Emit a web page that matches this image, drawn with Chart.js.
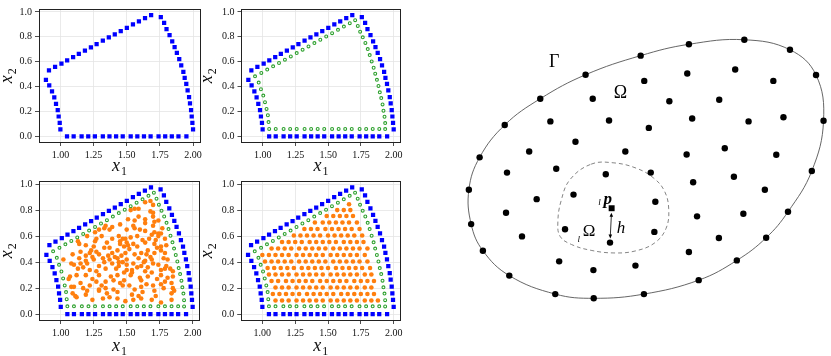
<!DOCTYPE html>
<html>
<head>
<meta charset="utf-8">
<script src="https://cdn.jsdelivr.net/npm/chart.js@4.4.0/dist/chart.umd.min.js"></script>
<style>
  body { margin: 0; background: #fff; width: 831px; height: 356px; position: relative; overflow: hidden; }
  canvas { position: absolute; }
</style>
</head>
<body>
<canvas id="panel_tl"></canvas>
<canvas id="panel_tr"></canvas>
<canvas id="panel_bl"></canvas>
<canvas id="panel_br"></canvas>
<canvas id="panel_domain"></canvas>
<script>
// tick labels of the four node plots
const xTicks = [1.00, 1.25, 1.50, 1.75, 2.00];
const yTicks = [0.0, 0.2, 0.4, 0.6, 0.8, 1.0];

// boundary nodes (blue squares)
const boundaryNodes = [
  [1.05,0],[1.10,0],[1.16,0],[1.21,0],[1.26,0],[1.32,0],[1.37,0],[1.42,0],[1.47,0],
  [1.53,0],[1.58,0],[1.63,0],[1.68,0],[1.74,0],[1.79,0],[1.84,0],[1.89,0],[1.95,0],
  [2.000,0.056],[1.995,0.109],[1.990,0.160],[1.985,0.211],[1.977,0.265],[1.970,0.316],
  [1.959,0.369],[1.949,0.422],[1.937,0.471],[1.927,0.519],[1.911,0.570],[1.896,0.621],
  [1.878,0.672],[1.861,0.718],[1.843,0.763],[1.823,0.814],[1.800,0.863],[1.782,0.913],[1.757,0.959],
  [1.684,0.975],[1.638,0.950],[1.592,0.925],[1.547,0.900],[1.501,0.872],[1.455,0.846],
  [1.410,0.820],[1.365,0.795],[1.320,0.770],[1.273,0.742],[1.230,0.716],[1.185,0.690],
  [1.139,0.664],[1.096,0.638],[1.051,0.612],[1.008,0.585],[0.960,0.558],[0.914,0.530],
  [0.891,0.455],[0.916,0.410],[0.937,0.361],[0.954,0.313],[0.967,0.262],[0.980,0.211],
  [0.987,0.160],[0.995,0.109],[1.000,0.056]
];

// first layer inside the boundary (green rings)
const layerNodes = [
  [1.05,0.06],[1.10,0.06],[1.16,0.06],[1.21,0.06],[1.26,0.06],[1.32,0.06],[1.37,0.06],[1.42,0.06],
  [1.47,0.06],[1.53,0.06],[1.58,0.06],[1.63,0.06],[1.68,0.06],[1.74,0.06],[1.79,0.06],[1.84,0.06],[1.89,0.06],
  [1.935,0.059],[1.935,0.107],[1.930,0.158],[1.922,0.206],[1.915,0.257],[1.905,0.308],[1.894,0.354],
  [1.884,0.405],[1.872,0.455],[1.859,0.504],[1.847,0.552],[1.832,0.603],[1.817,0.654],[1.802,0.702],
  [1.784,0.751],[1.764,0.796],[1.744,0.842],[1.726,0.888],[1.706,0.934],
  [1.665,0.910],[1.620,0.883],[1.575,0.857],[1.530,0.830],[1.485,0.803],[1.440,0.777],[1.395,0.750],
  [1.350,0.723],[1.305,0.697],[1.260,0.670],[1.215,0.643],[1.170,0.617],[1.125,0.590],[1.080,0.563],
  [1.035,0.537],[0.990,0.510],
  [0.942,0.483],[0.970,0.433],[0.987,0.379],[1.005,0.328],[1.018,0.275],[1.030,0.221],[1.040,0.170],[1.045,0.115]
];

// scattered interior nodes (bottom left)
const scatteredNodes = [
  [1.64,0.86],[1.68,0.87],[1.70,0.84],
  [1.53,0.80],[1.56,0.81],[1.59,0.81],[1.70,0.78],
  [1.51,0.73],[1.64,0.73],[1.70,0.75],[1.71,0.71],
  [1.34,0.68],[1.39,0.67],[1.55,0.68],[1.64,0.70],[1.70,0.68],
  [1.26,0.63],[1.29,0.65],[1.33,0.66],[1.37,0.65],[1.56,0.66],[1.64,0.64],[1.71,0.63],[1.74,0.62],
  [1.20,0.60],[1.27,0.58],[1.13,0.56],[1.39,0.58],[1.44,0.60],[1.49,0.58],[1.53,0.59],[1.58,0.60],
  [1.69,0.61],[1.74,0.60],[1.76,0.62],[1.79,0.58],
  [1.14,0.54],[1.19,0.53],[1.25,0.52],[1.33,0.51],[1.37,0.51],[1.45,0.54],[1.48,0.52],[1.51,0.53],
  [1.55,0.54],[1.64,0.55],[1.71,0.54],[1.76,0.52],[1.80,0.53],
  [1.09,0.46],[1.15,0.48],[1.22,0.47],[1.27,0.48],[1.29,0.46],[1.39,0.47],[1.43,0.49],[1.49,0.47],
  [1.56,0.46],[1.61,0.47],[1.65,0.46],[1.68,0.44],[1.71,0.47],[1.76,0.49],[1.79,0.47],
  [1.02,0.42],[1.14,0.43],[1.19,0.41],[1.24,0.44],[1.32,0.43],[1.37,0.42],[1.43,0.43],[1.50,0.42],
  [1.59,0.43],[1.64,0.41],[1.69,0.42],[1.78,0.43],[1.81,0.42],
  [1.08,0.39],[1.10,0.38],[1.15,0.39],[1.20,0.39],[1.29,0.37],[1.39,0.39],[1.44,0.40],[1.50,0.38],
  [1.55,0.39],[1.61,0.37],[1.70,0.39],[1.74,0.38],[1.80,0.37],
  [1.13,0.35],[1.22,0.34],[1.27,0.33],[1.34,0.35],[1.42,0.35],[1.50,0.34],[1.54,0.34],[1.64,0.33],
  [1.69,0.32],[1.76,0.34],[1.79,0.35],[1.83,0.35],[1.85,0.33],
  [1.07,0.29],[1.19,0.30],[1.29,0.30],[1.38,0.29],[1.43,0.30],[1.54,0.32],[1.60,0.28],[1.66,0.29],
  [1.76,0.30],[1.81,0.28],[1.85,0.29],
  [1.06,0.27],[1.27,0.25],[1.34,0.25],[1.40,0.26],[1.48,0.26],[1.61,0.26],[1.73,0.27],[1.79,0.25],[1.84,0.24],
  [1.08,0.21],[1.10,0.21],[1.17,0.20],[1.22,0.22],[1.29,0.19],[1.34,0.20],[1.40,0.19],[1.47,0.22],
  [1.61,0.21],[1.70,0.22],[1.76,0.23],[1.85,0.20],
  [1.09,0.16],[1.11,0.14],[1.19,0.15],[1.29,0.18],[1.35,0.16],[1.43,0.17],[1.54,0.15],[1.59,0.14],
  [1.71,0.18],[1.84,0.16],[1.86,0.18],
  [1.12,0.13],[1.24,0.11],[1.37,0.13],[1.43,0.12],[1.49,0.10],[1.61,0.12],[1.69,0.11],[1.76,0.09],[1.84,0.11],
  [1.45,0.56],[1.47,0.58],[1.50,0.55],[1.52,0.50],[1.46,0.45],[1.44,0.37],[1.47,0.40],[1.41,0.44],
  [1.36,0.45],[1.33,0.40],[1.25,0.42],[1.23,0.49],[1.19,0.45],[1.17,0.36],[1.26,0.56],[1.31,0.60],
  [1.35,0.55],[1.58,0.52],[1.62,0.57],[1.67,0.58],[1.72,0.57],[1.73,0.51],[1.66,0.49],[1.63,0.40],
  [1.66,0.36],[1.58,0.36],[1.53,0.30],[1.48,0.32],[1.45,0.24],[1.52,0.22],[1.56,0.19],[1.65,0.23],
  [1.72,0.14],[1.78,0.20],[1.31,0.22],[1.24,0.27],[1.15,0.24],[1.12,0.30],[1.20,0.18],[1.32,0.12],
  [1.55,0.11],[1.62,0.17],[1.59,0.75],[1.56,0.72],[1.45,0.69],[1.50,0.65],[1.60,0.65],[1.68,0.79],
  [1.74,0.72],[1.77,0.66]
];

// structured interior nodes (bottom right), one row per y value
const latticeRows = [
  [0.105, [1.10,1.15,1.20,1.26,1.31,1.36,1.41,1.46,1.52,1.57,1.62,1.67,1.72,1.78,1.83,1.88]],
  [0.155, [1.08,1.13,1.18,1.23,1.28,1.34,1.39,1.44,1.49,1.54,1.60,1.65,1.70,1.75,1.80,1.85]],
  [0.205, [1.10,1.15,1.20,1.26,1.31,1.36,1.41,1.46,1.52,1.57,1.62,1.67,1.72,1.78,1.83]],
  [0.255, [1.07,1.12,1.18,1.23,1.28,1.33,1.38,1.44,1.49,1.54,1.59,1.64,1.70,1.75,1.80,1.85]],
  [0.305, [1.05,1.10,1.15,1.20,1.26,1.31,1.36,1.41,1.46,1.52,1.57,1.62,1.67,1.72,1.78,1.83]],
  [0.355, [1.04,1.09,1.14,1.19,1.24,1.30,1.35,1.40,1.45,1.50,1.56,1.61,1.66,1.71,1.76,1.82]],
  [0.405, [1.02,1.07,1.12,1.17,1.22,1.28,1.33,1.38,1.43,1.48,1.54,1.59,1.64,1.69,1.74,1.80]],
  [0.455, [1.00,1.05,1.10,1.15,1.20,1.26,1.31,1.36,1.41,1.46,1.52,1.57,1.62,1.67,1.72,1.78]],
  [0.505, [1.07,1.12,1.17,1.22,1.28,1.33,1.38,1.43,1.48,1.54,1.59,1.64,1.69,1.74,1.80]],
  [0.555, [1.15,1.20,1.25,1.30,1.36,1.41,1.46,1.51,1.56,1.62,1.67,1.72,1.77]],
  [0.605, [1.24,1.29,1.34,1.39,1.44,1.50,1.55,1.60,1.65,1.70,1.76]],
  [0.655, [1.32,1.37,1.42,1.48,1.53,1.58,1.63,1.68,1.74]],
  [0.705, [1.40,1.46,1.51,1.56,1.61,1.66,1.72]],
  [0.755, [1.49,1.54,1.59,1.64,1.69]],
  [0.800, [1.57,1.62,1.67]],
  [0.845, [1.66]]
];

// right figure: domain Omega with boundary Gamma (diagram units, y downward)
const gammaNodes = [
  [10.30,0.79],[8.90,0.48],[7.20,0.62],[5.72,0.97],[4.03,1.56],[2.64,2.30],[1.55,3.11],[0.78,4.11],
  [0.45,5.11],[0.52,6.17],[0.88,6.99],[1.69,7.76],[3.10,8.33],[4.28,8.46],[5.82,8.33],[7.50,7.90],
  [8.67,7.29],[9.57,6.59],[10.24,5.79],[10.97,4.53],[11.33,2.98],[11.10,1.57]
];
const omegaNodes = [
  [5.83,1.75],[7.15,1.52],[8.62,1.40],[9.79,1.75],
  [4.25,2.30],[6.60,2.38],[8.13,2.33],
  [2.95,3.00],[4.75,2.97],[5.97,3.20],[7.30,2.91],[9.03,3.00],[10.10,2.87],
  [3.72,3.63],[2.30,3.93],[5.25,3.93],[7.13,4.02],[8.30,3.83],[9.88,4.03],
  [1.62,4.58],[3.13,4.46],[4.65,4.63],[6.03,4.58],[7.33,4.88],[8.58,4.71],
  [2.53,5.40],[3.66,5.26],[6.17,5.48],[9.53,5.11],
  [1.59,5.82],[7.45,5.93],[8.87,5.85],
  [3.40,6.33],[6.14,6.41],[2.08,6.55],[8.12,6.60],[4.78,6.74],
  [7.20,7.03],[3.22,7.32],[4.27,7.59],[5.56,7.45]
];
const centerNode = [4.83,5.68];
const nearestNode = [4.78,6.74];
const localDomain = [
  [4.20,4.32],[4.90,4.28],[5.60,4.45],[6.12,4.75],[6.45,5.15],[6.58,5.70],[6.50,6.30],[6.15,6.75],
  [5.55,7.00],[4.90,7.06],[4.20,6.98],[3.60,6.80],[3.25,6.55],[3.18,6.10],[3.28,5.45],[3.55,4.80]
];
const diagramLabels = [
  {text: 'Γ', at: [3.07,1.19], font: '18px'},
  {text: 'Ω', at: [5.10,2.13], font: '18px'},
  {text: 'l', at: [4.46,5.50], font: 'italic 9px'},
  {text: 'p', at: [4.71,5.40], font: 'italic bold 17px'},
  {text: 'h', at: [5.12,6.30], font: 'italic 17px'},
  {text: 'l', at: [3.82,6.64], font: 'italic 9px'},
  {text: 'Ω', at: [4.14,6.41], font: '17px'}
];

const SERIF = '"Liberation Serif", "DejaVu Serif", serif';
const toXY = p => ({x: p[0], y: p[1]});

// x with a subscript, as matplotlib's $x_1$
function mathLabel(ctx, sub, cx, baseY) {
  const mainFont = 'italic 18px ' + SERIF;
  const subFont = '12px ' + SERIF;
  ctx.font = mainFont;
  const w1 = ctx.measureText('x').width;
  ctx.font = subFont;
  const w2 = ctx.measureText(sub).width;
  const start = cx - (w1 + w2 + 1) / 2;
  ctx.fillStyle = '#111';
  ctx.textAlign = 'left';
  ctx.textBaseline = 'alphabetic';
  ctx.font = mainFont;
  ctx.fillText('x', start, baseY);
  ctx.font = subFont;
  ctx.fillText(sub, start + w1 + 1, baseY + 4);
}

function panelDecor(xOff, yOff) {
  return {
    id: 'panelDecor',
    afterDraw(chart) {
      const ctx = chart.ctx;
      const a = chart.chartArea;
      ctx.save();
      ctx.strokeStyle = '#222';
      ctx.lineWidth = 1;
      ctx.strokeRect(Math.round(a.left) + 0.5, Math.round(a.top) + 0.5,
                     Math.round(a.right - a.left) - 1, Math.round(a.bottom - a.top) - 1);
      mathLabel(ctx, '1', (a.left + a.right) / 2, a.bottom + yOff);
      ctx.translate(a.left - xOff, (a.top + a.bottom) / 2);
      ctx.rotate(-Math.PI / 2);
      mathLabel(ctx, '2', 0, 0);
      ctx.restore();
    }
  };
}

function nodePlot(id, box, plot, interior, labelOff) {
  const canvas = document.getElementById(id);
  canvas.width = box.w;
  canvas.height = box.h;
  canvas.style.left = box.x + 'px';
  canvas.style.top = box.y + 'px';

  const datasets = [{
    data: boundaryNodes.map(toXY),
    pointStyle: 'rect', pointRadius: 3, borderWidth: 0,
    backgroundColor: '#0000ff', borderColor: '#0000ff', order: 3
  }];
  if (interior.layer) {
    datasets.push({
      data: layerNodes.map(toXY),
      pointStyle: 'circle', pointRadius: 1.45, borderWidth: 1.1,
      backgroundColor: 'rgba(255,255,255,0)', borderColor: '#2ca02c', order: 2
    });
  }
  if (interior.nodes) {
    datasets.push({
      data: interior.nodes.map(toXY),
      pointStyle: 'circle', pointRadius: 2.3, borderWidth: 0,
      backgroundColor: '#ff7f0e', borderColor: '#ff7f0e', order: 1
    });
  }

  const grid = {color: '#e4e4e4', lineWidth: 0.8, drawTicks: true, tickLength: 3.5,
                tickColor: '#222', tickWidth: 0.8};
  const tickFont = {family: SERIF, size: 10};
  return new Chart(canvas, {
    type: 'scatter',
    data: {datasets},
    options: {
      responsive: false,
      animation: false,
      events: [],
      layout: {padding: {left: 0, bottom: 0, top: plot.top - box.y, right: box.x + box.w - plot.right}},
      plugins: {legend: {display: false}, tooltip: {enabled: false}},
      scales: {
        x: {
          type: 'linear', min: 0.835, max: 2.055,
          grid, border: {display: false},
          afterBuildTicks: s => { s.ticks = xTicks.map(v => ({value: v})); },
          afterFit: s => { s.height = box.y + box.h - plot.bottom; },
          ticks: {font: tickFont, color: '#111', padding: 3, maxRotation: 0, autoSkip: false,
                  callback: v => Number(v).toFixed(2)}
        },
        y: {
          type: 'linear', min: -0.049, max: 1.024,
          grid, border: {display: false},
          afterBuildTicks: s => { s.ticks = yTicks.map(v => ({value: v})); },
          afterFit: s => { s.width = plot.left - box.x; },
          ticks: {font: tickFont, color: '#111', padding: 3, autoSkip: false,
                  callback: v => Number(v).toFixed(1)}
        }
      }
    },
    plugins: [panelDecor(labelOff.x, labelOff.y)]
  });
}

const latticeNodes = [];
latticeRows.forEach(row => row[1].forEach(x => latticeNodes.push([x, row[0]])));

nodePlot('panel_tl', {x: 0, y: 0, w: 205, h: 176},
         {left: 38.5, top: 1.5, right: 200.5, bottom: 142.5}, {}, {x: 27, y: 28.5});
nodePlot('panel_tr', {x: 196, y: 0, w: 210, h: 176},
         {left: 241, top: 1.5, right: 403.3, bottom: 142.5}, {layer: true}, {x: 29, y: 28.5});
nodePlot('panel_bl', {x: 0, y: 172, w: 205, h: 184},
         {left: 39, top: 178, right: 202, bottom: 320.5}, {layer: true, nodes: scatteredNodes}, {x: 27, y: 30.5});
nodePlot('panel_br', {x: 196, y: 172, w: 210, h: 184},
         {left: 240.7, top: 178, right: 403.3, bottom: 320.5}, {layer: true, nodes: latticeNodes}, {x: 29, y: 30.5});

// closed smooth curve: pad the ring so every drawn piece has both neighbours
function closedCurve(pts) {
  const n = pts.length;
  return [pts[n - 1], ...pts, pts[0], pts[1]].map(toXY);
}
function hideEnds(len, color) {
  return c => (c.p0DataIndex === 0 || c.p1DataIndex === len - 1) ? 'rgba(0,0,0,0)' : color;
}

const diagramDecor = {
  id: 'diagramDecor',
  afterDatasetsDraw(chart) {
    const ctx = chart.ctx;
    const sx = chart.scales.x, sy = chart.scales.y;
    const px = p => [sx.getPixelForValue(p[0]), sy.getPixelForValue(p[1])];
    ctx.save();
    // arrow h between the centre node and its nearest node
    const a = px(centerNode), b = px(nearestNode);
    const y0 = a[1] + 4.5, y1 = b[1] - 4;
    const x0 = a[0] - 0.3, x1 = b[0] + 0.3;
    ctx.strokeStyle = '#000';
    ctx.fillStyle = '#000';
    ctx.lineWidth = 0.8;
    ctx.beginPath();
    ctx.moveTo(x0, y0 + 3);
    ctx.lineTo(x1, y1 - 3);
    ctx.stroke();
    [[x0, y0, -1], [x1, y1, 1]].forEach(([x, y, d]) => {
      ctx.beginPath();
      ctx.moveTo(x, y);
      ctx.lineTo(x - 1.8, y - d * 4);
      ctx.lineTo(x + 1.8, y - d * 4);
      ctx.closePath();
      ctx.fill();
    });
    ctx.textAlign = 'center';
    ctx.textBaseline = 'middle';
    diagramLabels.forEach(l => {
      const p = px(l.at);
      ctx.font = l.font + ' ' + SERIF;
      ctx.fillText(l.text, p[0], p[1]);
    });
    ctx.restore();
  }
};

(function () {
  const canvas = document.getElementById('panel_domain');
  canvas.width = 381;
  canvas.height = 300;
  canvas.style.left = '450px';
  canvas.style.top = '20px';
  const gammaCurve = closedCurve(gammaNodes);
  const localCurve = closedCurve(localDomain);
  new Chart(canvas, {
    type: 'scatter',
    data: {
      datasets: [
        {
          data: omegaNodes.concat(gammaNodes).map(toXY),
          pointStyle: 'circle', pointRadius: 3.2, borderWidth: 0,
          backgroundColor: '#000', borderColor: '#000', clip: false, order: 1
        },
        {
          data: [toXY(centerNode)],
          pointStyle: 'rect', pointRadius: 4.2, borderWidth: 0,
          backgroundColor: '#000', clip: false, order: 1
        },
        {
          data: gammaCurve, showLine: true, pointRadius: 0, tension: 0.4,
          borderWidth: 0.9, borderColor: '#555', clip: false, order: 3,
          segment: {borderColor: hideEnds(gammaCurve.length, '#555')}
        },
        {
          data: localCurve, showLine: true, pointRadius: 0, tension: 0.4,
          borderWidth: 0.9, borderColor: '#777', borderDash: [4, 3], clip: false, order: 3,
          segment: {borderColor: hideEnds(localCurve.length, '#777')}
        }
      ]
    },
    options: {
      responsive: false,
      animation: false,
      events: [],
      layout: {padding: 0},
      plugins: {legend: {display: false}, tooltip: {enabled: false}},
      scales: {
        x: {type: 'linear', min: 0, max: 11.43, display: false},
        y: {type: 'linear', min: 0, max: 9.00, reverse: true, display: false}
      }
    },
    plugins: [diagramDecor]
  });
})();
</script>
</body>
</html>
